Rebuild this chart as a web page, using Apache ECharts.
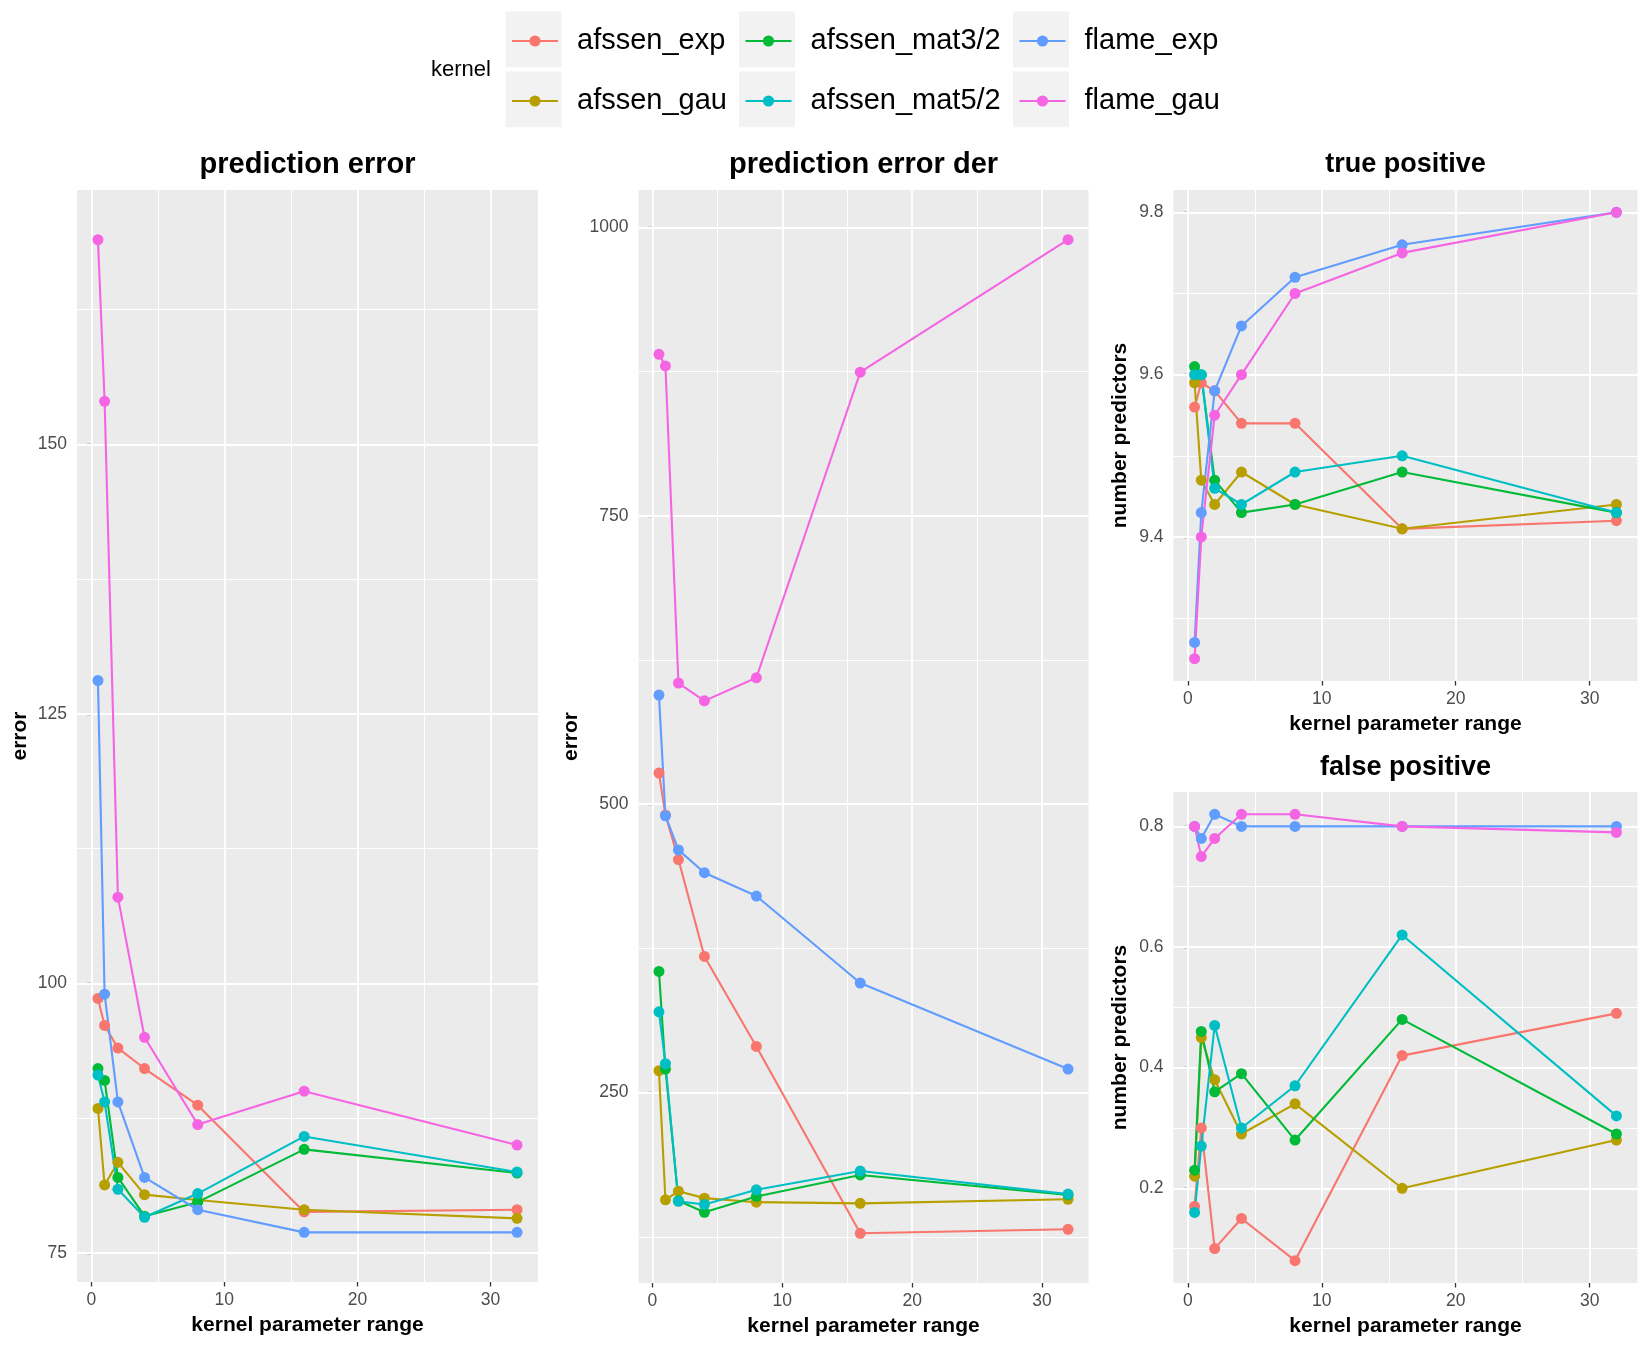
<!DOCTYPE html>
<html>
<head>
<meta charset="utf-8">
<title>kernel parameter range</title>
<script src="https://cdn.jsdelivr.net/npm/echarts@6/dist/echarts.min.js"></script>
<style>
  html, body { margin: 0; padding: 0; background: #fff; }
  #chart { width: 1648px; height: 1348px; }
</style>
</head>
<body>
<div id="chart"></div>
<script>
  // kernel parameter range (x) shared by every panel
  const xs = [0.5, 1, 2, 4, 8, 16, 32];
  const kernels = ['afssen_exp', 'afssen_gau', 'afssen_mat3/2', 'afssen_mat5/2', 'flame_exp', 'flame_gau'];
  const colors = ['#F8766D', '#B79F00', '#00BA38', '#00BFC4', '#619CFF', '#F564E3'];

  // prediction error
  const predErrExp = [98.6, 96.1, 94.0, 92.1, 88.7, 78.8, 79.0];
  const predErrGau = [88.4, 81.3, 83.4, 80.4, 79.9, 79.0, 78.2];
  const predErrMat3 = [92.1, 91.0, 82.0, 78.4, 79.7, 84.6, 82.4];
  const predErrMat5 = [91.5, 89.0, 80.9, 78.3, 80.5, 85.8, 82.5];
  const predErrFlameExp = [128.1, 99.0, 89.0, 82.0, 79.0, 76.9, 76.9];
  const predErrFlameGau = [169.0, 154.0, 108.0, 95.0, 86.9, 90.0, 85.0];

  // prediction error der
  const derErrExp = [527, 490.6, 452, 368, 290, 128, 131.5];
  const derErrGau = [269, 157, 164.5, 158.5, 155, 154, 157.5];
  const derErrMat3 = [355, 270.4, 156.3, 146.2, 160, 178.6, 161.3];
  const derErrMat5 = [320, 275, 155.7, 153, 165.7, 182, 162];
  const derErrFlameExp = [594.6, 490, 460.4, 440.6, 420.4, 345, 270.4];
  const derErrFlameGau = [890, 880, 605, 589.6, 609.6, 874.5, 989.4];

  // true positive
  const tpExp = [9.56, 9.59, 9.58, 9.54, 9.54, 9.41, 9.42];
  const tpGau = [9.59, 9.47, 9.44, 9.48, 9.44, 9.41, 9.44];
  const tpMat3 = [9.61, 9.60, 9.47, 9.43, 9.44, 9.48, 9.43];
  const tpMat5 = [9.60, 9.60, 9.46, 9.44, 9.48, 9.50, 9.43];
  const tpFlameExp = [9.27, 9.43, 9.58, 9.66, 9.72, 9.76, 9.80];
  const tpFlameGau = [9.25, 9.40, 9.55, 9.60, 9.70, 9.75, 9.80];

  // false positive
  const fpExp = [0.17, 0.30, 0.10, 0.15, 0.08, 0.42, 0.49];
  const fpGau = [0.22, 0.45, 0.38, 0.29, 0.34, 0.20, 0.28];
  const fpMat3 = [0.23, 0.46, 0.36, 0.39, 0.28, 0.48, 0.29];
  const fpMat5 = [0.16, 0.27, 0.47, 0.30, 0.37, 0.62, 0.32];
  const fpFlameExp = [0.80, 0.78, 0.82, 0.80, 0.80, 0.80, 0.80];
  const fpFlameGau = [0.80, 0.75, 0.78, 0.82, 0.82, 0.80, 0.79];

  // tick values
  const xTicks = [0, 10, 20, 30];
  const xMinor = [5, 15, 25];
  const predErrTicks = [75, 100, 125, 150];
  const predErrMinor = [87.5, 112.5, 137.5, 162.5];
  const derErrTicks = [250, 500, 750, 1000];
  const derErrMinor = [125, 375, 625, 875];
  const tpTicks = [9.4, 9.6, 9.8];
  const tpMinor = [9.3, 9.5, 9.7];
  const fpTicks = [0.2, 0.4, 0.6, 0.8];
  const fpMinor = [0.1, 0.3, 0.5, 0.7];

  const font = 'Liberation Sans, Arial, Helvetica, sans-serif';

  const panels = [
    {
      title: 'prediction error', titleSize: 29, titleY: 165, yName: 'error', yNameGap: 46,
      grid: { left: 77, top: 190, width: 461, height: 1092 },
      values: [predErrExp, predErrGau, predErrMat3, predErrMat5, predErrFlameExp, predErrFlameGau],
      ticks: predErrTicks, minor: predErrMinor,
    },
    {
      title: 'prediction error der', titleSize: 29, titleY: 165, yName: 'error', yNameGap: 57,
      grid: { left: 638.5, top: 190, width: 450, height: 1093 },
      values: [derErrExp, derErrGau, derErrMat3, derErrMat5, derErrFlameExp, derErrFlameGau],
      ticks: derErrTicks, minor: derErrMinor,
    },
    {
      title: 'true positive', titleSize: 27, titleY: 165, yName: 'number predictors', yNameGap: 43,
      grid: { left: 1173.5, top: 190, width: 464, height: 491 },
      values: [tpExp, tpGau, tpMat3, tpMat5, tpFlameExp, tpFlameGau],
      ticks: tpTicks, minor: tpMinor,
    },
    {
      title: 'false positive', titleSize: 27, titleY: 768, yName: 'number predictors', yNameGap: 43,
      grid: { left: 1173.5, top: 792, width: 464, height: 491 },
      values: [fpExp, fpGau, fpMat3, fpMat5, fpFlameExp, fpFlameGau],
      ticks: fpTicks, minor: fpMinor,
    },
  ];

  // ggplot style 5% expansion of the data range
  const expand = (arr) => {
    const lo = Math.min(...arr);
    const hi = Math.max(...arr);
    const pad = (hi - lo) * 0.05;
    return [lo - pad, hi + pad];
  };

  const xRange = expand(xs);

  const tickStyle = { show: true, length: 4.5, lineStyle: { color: '#333333', width: 1.3 } };
  const labelStyle = { color: '#4D4D4D', fontSize: 17.5, fontFamily: font, formatter: (v) => String(v) };
  const nameStyle = { color: '#000', fontSize: 21, fontWeight: 'bold', fontFamily: font };

  const grids = [];
  const xAxes = [];
  const yAxes = [];
  const series = [];
  const graphics = [];

  panels.forEach((p, gi) => {
    const yRange = expand([].concat(...p.values));

    grids.push(Object.assign({
      show: true, backgroundColor: '#EBEBEB', borderWidth: 0, outerBoundsMode: 'none',
    }, p.grid));

    xAxes.push({
      gridIndex: gi, type: 'value', min: xRange[0], max: xRange[1],
      name: 'kernel parameter range', nameLocation: 'middle', nameGap: 33, nameTextStyle: nameStyle,
      axisLine: { show: false },
      axisTick: Object.assign({ customValues: xTicks }, tickStyle),
      axisLabel: Object.assign({ customValues: xTicks, margin: 9 }, labelStyle),
      splitLine: { show: false },
    });

    yAxes.push({
      gridIndex: gi, type: 'value', min: yRange[0], max: yRange[1],
      name: p.yName, nameLocation: 'middle', nameGap: p.yNameGap, nameTextStyle: nameStyle,
      axisLine: { show: false },
      axisTick: Object.assign({ customValues: p.ticks }, tickStyle),
      axisLabel: Object.assign({ customValues: p.ticks, margin: 10 }, labelStyle),
      splitLine: { show: false },
    });

    // panel grid lines, drawn under the data
    const line = (key, v, w) => ({ [key]: v, lineStyle: { color: '#FFFFFF', width: w, type: 'solid' } });
    series.push({
      type: 'line', xAxisIndex: gi, yAxisIndex: gi, data: [], silent: true, z: 1,
      markLine: {
        silent: true, z: 1, animation: false, symbol: ['none', 'none'], label: { show: false },
        emphasis: { disabled: true },
        data: [].concat(
          xMinor.map((v) => line('xAxis', v, 1)),
          p.minor.map((v) => line('yAxis', v, 1)),
          xTicks.map((v) => line('xAxis', v, 1.8)),
          p.ticks.map((v) => line('yAxis', v, 1.8))
        ),
      },
    });

    p.values.forEach((vals, si) => {
      series.push({
        name: kernels[si], type: 'line', xAxisIndex: gi, yAxisIndex: gi, z: 3,
        data: xs.map((x, i) => [x, vals[i]]),
        symbol: 'circle', symbolSize: 11, showSymbol: true,
        lineStyle: { width: 2.1, color: colors[si] },
        itemStyle: { color: colors[si] },
        emphasis: { disabled: true },
      });
    });

    const cx = p.grid.left + p.grid.width / 2;
    graphics.push({
      type: 'text', x: cx, y: p.titleY,
      style: {
        text: p.title, fill: '#000', font: 'bold ' + p.titleSize + 'px ' + font,
        align: 'center', verticalAlign: 'middle',
      },
    });
  });

  // legend key backgrounds and legend title
  [505.5, 739, 1013].forEach((x) => {
    [11.6, 71.5].forEach((y) => {
      graphics.push({ type: 'rect', x: x, y: y, shape: { width: 56, height: 55.7 }, style: { fill: '#F2F2F2' }, z: -1 });
    });
  });
  graphics.push({
    type: 'text', x: 431, y: 70,
    style: { text: 'kernel', fill: '#000', font: '22px ' + font, align: 'left', verticalAlign: 'middle' },
  });

  const legendBase = {
    orient: 'vertical', top: 26, padding: 0, itemGap: 30, itemWidth: 46, itemHeight: 14,
    selectedMode: false,
    textStyle: { fontSize: 29, fontFamily: font, color: '#000', lineHeight: 30, padding: [0, 0, 0, 14] },
  };
  const legends = [
    Object.assign({ left: 511, data: kernels.slice(0, 2) }, legendBase),
    Object.assign({ left: 744.5, data: kernels.slice(2, 4) }, legendBase),
    Object.assign({ left: 1018.5, data: kernels.slice(4, 6) }, legendBase),
  ];

  const chart = echarts.init(document.getElementById('chart'));
  chart.setOption({
    animation: false,
    backgroundColor: '#FFFFFF',
    legend: legends,
    grid: grids,
    xAxis: xAxes,
    yAxis: yAxes,
    series: series,
    graphic: graphics,
  });
</script>
</body>
</html>
